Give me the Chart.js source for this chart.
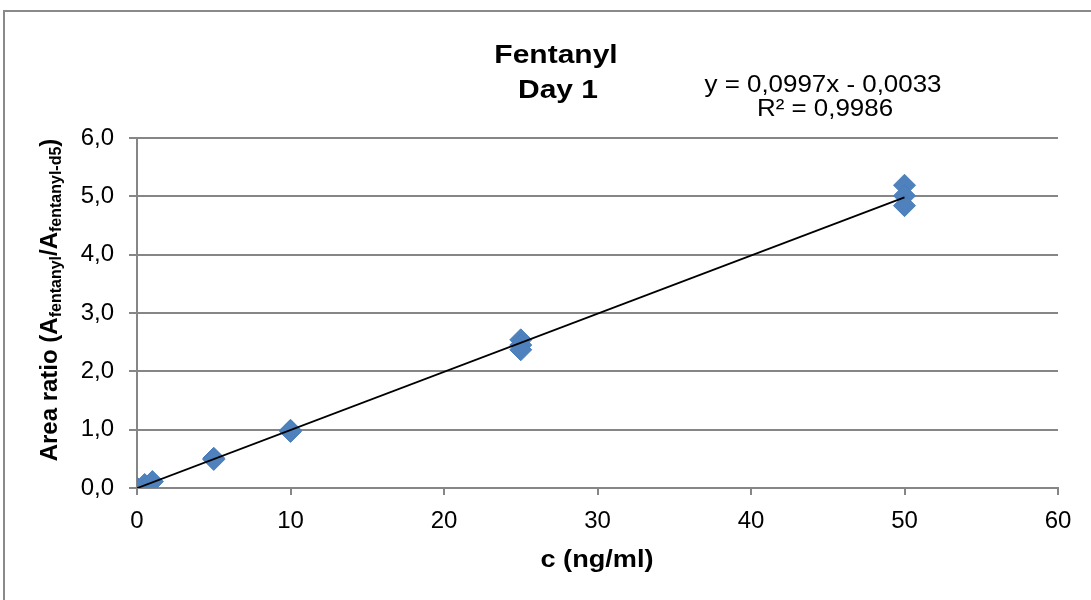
<!DOCTYPE html>
<html>
<head>
<meta charset="utf-8">
<script src="https://cdn.jsdelivr.net/npm/chart.js@4.4.1/dist/chart.umd.min.js"></script>
<style>
html,body{margin:0;padding:0;background:#fff;overflow:hidden;}
#wrap{position:absolute;left:0;top:0;width:1091px;height:600px;}
#frame{position:absolute;left:3px;top:10px;width:1200px;height:700px;border-left:2px solid #8a8a8a;border-top:2px solid #8a8a8a;box-sizing:border-box;}
canvas{position:absolute;left:0;top:0;}
</style>
</head>
<body>
<div id="wrap">
<div id="frame"></div>
<canvas id="c" width="1091" height="600"></canvas>
</div>
<script>
// Data
const concX   = [0, 0.5, 1, 5, 5, 10, 10, 25, 25, 25, 50, 50, 50];
const ratioY  = [0.00, 0.06, 0.11, 0.51, 0.49, 0.99, 0.97, 2.54, 2.45, 2.37, 5.19, 5.01, 4.84];
const trendX  = [0, 50];
const trendY  = [-0.0033, 4.9817];
const yTicks  = ['0,0','1,0','2,0','3,0','4,0','5,0','6,0'];
const xTicks  = ['0','10','20','30','40','50','60'];
const titleLines = ['Fentanyl', 'Day 1'];
const eqLines = ['y = 0,0997x - 0,0033', 'R² = 0,9986'];
const xTitle = 'c (ng/ml)';

const FONT = '"Liberation Sans", Arial, sans-serif';
const GRID = '#868686';

function stretchText(ctx, txt, cx, baseY, sx) {
  ctx.save();
  ctx.translate(cx, baseY);
  ctx.scale(sx, 1);
  ctx.fillText(txt, 0, 0);
  ctx.restore();
}

const overlay = {
  id: 'overlay',
  afterDraw(chart) {
    const ctx = chart.ctx;
    ctx.save();
    ctx.fillStyle = '#000';
    ctx.textAlign = 'center';
    ctx.textBaseline = 'alphabetic';
    ctx.font = 'bold 25px ' + FONT;
    stretchText(ctx, titleLines[0], 556, 63, 1.2);
    stretchText(ctx, titleLines[1], 558, 98, 1.2);
    ctx.font = '24px ' + FONT;
    stretchText(ctx, eqLines[0], 823, 92, 1.08);
    stretchText(ctx, eqLines[1], 825, 116, 1.08);
    ctx.font = 'bold 23px ' + FONT;
    stretchText(ctx, xTitle, 597, 567, 1.18);
    // rotated y title with subscripts
    const parts = [
      {t: 'Area ratio (A', sub: false},
      {t: 'fentanyl', sub: true},
      {t: '/A', sub: false},
      {t: 'fentanyl-d5', sub: true},
      {t: ')', sub: false}
    ];
    const mainF = 'bold 24px ' + FONT, subF = 'bold 16px ' + FONT;
    let total = 0;
    parts.forEach(p => { ctx.font = p.sub ? subF : mainF; p.w = ctx.measureText(p.t).width; total += p.w; });
    ctx.translate(49, 300);
    ctx.rotate(-Math.PI / 2);
    ctx.textAlign = 'left';
    let x = -total / 2;
    parts.forEach(p => {
      ctx.font = p.sub ? subF : mainF;
      ctx.fillText(p.t, x, p.sub ? 12 : 8);
      x += p.w;
    });
    ctx.restore();
  }
};

new Chart(document.getElementById('c'), {
  type: 'scatter',
  data: {
    datasets: [
      {
        type: 'line',
        data: trendX.map((v, i) => ({x: v, y: trendY[i]})),
        borderColor: '#000',
        borderWidth: 1.8,
        pointRadius: 0,
        fill: false,
        order: 0
      },
      {
        data: concX.map((v, i) => ({x: v, y: ratioY[i]})),
        pointStyle: 'rectRot',
        pointRadius: 11,
        pointHoverRadius: 11,
        backgroundColor: '#4F81BD',
        borderColor: '#4A7EBB',
        borderWidth: 1,
        order: 1
      }
    ]
  },
  options: {
    responsive: false,
    animation: false,
    devicePixelRatio: 1,
    layout: {padding: {top: 138, right: 33, left: 0, bottom: 0}},
    plugins: {legend: {display: false}, tooltip: {enabled: false}, title: {display: false}},
    scales: {
      x: {
        type: 'linear', min: 0, max: 60,
        afterFit(s) { s.height = 112; },
        afterBuildTicks(s) { s.ticks = xTicks.map(t => ({value: Number(t)})); },
        ticks: {
          color: '#000', font: {family: FONT, size: 24}, padding: 12,
          callback: (v, i) => xTicks[i]
        },
        grid: {drawOnChartArea: false, drawTicks: true, tickLength: 7, color: GRID, lineWidth: 2},
        border: {display: true, color: GRID, width: 2}
      },
      y: {
        type: 'linear', min: 0, max: 6,
        afterFit(s) { s.width = 137; },
        afterBuildTicks(s) { s.ticks = yTicks.map((t, i) => ({value: i})); },
        ticks: {
          color: '#000', font: {family: FONT, size: 24}, padding: 15,
          callback: (v, i) => yTicks[i]
        },
        grid: {color: GRID, lineWidth: 2, drawTicks: true, tickLength: 8},
        border: {display: true, color: GRID, width: 2}
      }
    }
  },
  plugins: [overlay]
});
</script>
</body>
</html>
